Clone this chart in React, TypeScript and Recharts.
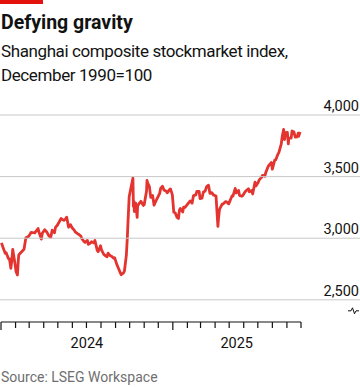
import React from "react";
import { LineChart, Line, XAxis, YAxis } from "recharts";

const dates = [
  "2024-01-02","2024-01-05","2024-01-10","2024-01-12","2024-01-17","2024-01-19","2024-01-22","2024-01-24","2024-01-26","2024-01-31",
  "2024-02-02","2024-02-05","2024-02-07","2024-02-08","2024-02-19","2024-02-23","2024-02-29","2024-03-05","2024-03-08","2024-03-13",
  "2024-03-15","2024-03-20","2024-03-22","2024-03-27","2024-03-29","2024-04-03","2024-04-08","2024-04-12","2024-04-16","2024-04-19",
  "2024-04-24","2024-04-26","2024-04-30","2024-05-08","2024-05-10","2024-05-14","2024-05-17","2024-05-20","2024-05-24","2024-05-28",
  "2024-05-31","2024-06-05","2024-06-07","2024-06-12","2024-06-14","2024-06-19","2024-06-21","2024-06-26","2024-06-28","2024-07-03",
  "2024-07-05","2024-07-09","2024-07-12","2024-07-17","2024-07-19","2024-07-24","2024-07-26","2024-07-31","2024-08-02","2024-08-07",
  "2024-08-09","2024-08-14","2024-08-16","2024-08-21","2024-08-23","2024-08-28","2024-08-30","2024-09-04","2024-09-06","2024-09-11",
  "2024-09-13","2024-09-18","2024-09-20","2024-09-24","2024-09-26","2024-09-27","2024-09-30","2024-10-08","2024-10-09","2024-10-10",
  "2024-10-11","2024-10-14","2024-10-17","2024-10-18","2024-10-22","2024-10-25","2024-10-30","2024-11-01","2024-11-06","2024-11-07",
  "2024-11-08","2024-11-12","2024-11-15","2024-11-19","2024-11-22","2024-11-27","2024-11-29","2024-12-04","2024-12-06","2024-12-10",
  "2024-12-13","2024-12-18","2024-12-20","2024-12-25","2024-12-27","2024-12-31","2025-01-03","2025-01-06","2025-01-10","2025-01-13",
  "2025-01-15","2025-01-17","2025-01-22","2025-01-24","2025-01-27","2025-02-07","2025-02-11","2025-02-14","2025-02-19","2025-02-21",
  "2025-02-26","2025-02-28","2025-03-04","2025-03-07","2025-03-11","2025-03-14","2025-03-18","2025-03-21","2025-03-25","2025-03-28",
  "2025-04-03","2025-04-07","2025-04-08","2025-04-10","2025-04-11","2025-04-16","2025-04-18","2025-04-23","2025-04-25","2025-04-30",
  "2025-05-07","2025-05-09","2025-05-14","2025-05-16","2025-05-21","2025-05-23","2025-05-28","2025-05-30","2025-06-04","2025-06-06",
  "2025-06-11","2025-06-13","2025-06-18","2025-06-20","2025-06-25","2025-06-27","2025-07-02","2025-07-04","2025-07-09","2025-07-11",
  "2025-07-16","2025-07-18","2025-07-23","2025-07-25","2025-07-30","2025-08-01","2025-08-06","2025-08-08","2025-08-13","2025-08-15",
  "2025-08-20","2025-08-22","2025-08-25","2025-08-27","2025-08-29","2025-09-02","2025-09-04","2025-09-05","2025-09-10","2025-09-12",
  "2025-09-16","2025-09-18","2025-09-19","2025-09-23","2025-09-25","2025-09-26","2025-09-29",
];

const values = [
  2962,2929,2877,2882,2833,2832,2756,2820,2910,2789,
  2730,2702,2830,2866,2910,3004,3015,3047,3046,3043,
  3054,3079,3048,2993,3041,3069,3048,3019,3007,3065,
  3044,3088,3105,3160,3154,3145,3154,3171,3089,3110,
  3087,3065,3051,3037,3033,3018,2998,2972,2967,2982,
  2950,2959,2971,2962,2982,2901,2891,2939,2905,2869,
  2862,2850,2879,2856,2855,2837,2842,2784,2766,2721,
  2704,2718,2736,2863,3000,3088,3336,3489,3258,3301,
  3217,3284,3169,3261,3285,3300,3266,3272,3383,3470,
  3452,3421,3331,3346,3268,3310,3326,3364,3404,3422,
  3392,3382,3368,3394,3400,3352,3211,3206,3169,3160,
  3228,3241,3213,3252,3250,3303,3284,3346,3351,3379,
  3380,3321,3325,3373,3384,3419,3430,3364,3370,3352,
  3342,3096,3146,3223,3238,3276,3277,3296,3296,3279,
  3343,3342,3404,3367,3388,3348,3340,3347,3377,3385,
  3402,3377,3388,3359,3455,3424,3455,3473,3494,3510,
  3503,3534,3582,3593,3615,3560,3634,3635,3683,3697,
  3766,3826,3883,3800,3857,3858,3765,3812,3812,3870,
  3862,3831,3820,3822,3853,3828,3862,
];

const monthTicks = [
  "2024-01-01","2024-02-01","2024-03-01","2024-04-01","2024-05-01","2024-06-01","2024-07-01","2024-08-01",
  "2024-09-01","2024-10-01","2024-11-01","2024-12-01","2025-01-01","2025-02-01","2025-03-01","2025-04-01",
  "2025-05-01","2025-06-01","2025-07-01","2025-08-01","2025-09-01","2025-10-01",
];
const yearLabels = ["2024", "2025"];
const yearLabelDates = ["2024-07-02", "2025-05-17"];
const yTicks = [2500, 3000, 3500, 4000];

const toT = (d: string) => Date.parse(d + "T00:00:00Z");
const data = dates.map((d, i) => ({ t: toT(d), v: values[i] }));
const monthT = monthTicks.map(toT);
const labelT = yearLabelDates.map(toT);
const allTicks = [...monthT, ...labelT];

const FONT = "Roboto, 'Noto Sans', sans-serif";
const INK = "#121212";

const XTick = (props: any) => {
  const { x, y, payload } = props;
  const li = labelT.indexOf(payload.value);
  if (li >= 0) {
    return (
      <text x={x} y={y + 26} textAnchor="middle" fontSize={14.5} fontWeight={400} stroke="none" fill={INK} fontFamily={FONT}>
        {yearLabels[li]}
      </text>
    );
  }
  const d = new Date(payload.value);
  const isJan = d.getUTCMonth() === 0;
  return <line x1={x} x2={x} y1={y} y2={y + (isJan ? 8 : 6)} stroke={INK} strokeWidth={1.2} />;
};

const YTick = (props: any) => {
  const { y, payload } = props;
  const v = payload.value as number;
  return (
    <g>
      <line x1={0} x2={360} y1={y} y2={y} stroke="#c8c8c8" strokeWidth={1} />
      <text x={359} y={y - 4} textAnchor="end" fontSize={14.5} stroke="none" fill={INK} fontFamily={FONT}>
        {v.toLocaleString("en-US")}
      </text>
      {v === yTicks[0] && (
        <path
          d={`M348 ${y + 11} h3 l1.5 -3 l2 6 l1.5 -3 h3`}
          fill="none"
          stroke={INK}
          strokeWidth={1}
        />
      )}
    </g>
  );
};

export default function App() {
  return (
    <div style={{ position: "absolute", left: 0, top: 0, width: 360, height: 387, background: "#fff", overflow: "hidden" }}>
      <div style={{ position: "absolute", left: 0, top: 0, width: 43, height: 4, background: "#e3120b" }} />
      <svg width={360} height={387} style={{ position: "absolute", left: 0, top: 0 }}>
        <text x={1} y={29.3} fontFamily={FONT} fontWeight={700} fontSize={19.5} fill={INK}>
          Defying gravity
        </text>
        <text x={1} y={57} fontFamily={FONT} fontSize={17} letterSpacing={-0.4} fill={INK}>
          Shanghai composite stockmarket index,
        </text>
        <text x={1} y={81} fontFamily={FONT} fontSize={17} letterSpacing={-0.4} fill={INK}>
          December 1990=100
        </text>
        <text x={1} y={381.5} fontFamily={FONT} fontSize={14} fill="#6f6f6f">
          Source: LSEG Workspace
        </text>
      </svg>
      <div style={{ position: "absolute", left: 0, top: 0 }}>
        <LineChart width={360} height={387} data={data} margin={{ top: 115, right: 0, bottom: 0, left: 1 }}>
          <YAxis
            orientation="right"
            domain={[2320, 4000]}
            ticks={yTicks}
            width={59}
            axisLine={false}
            tickLine={false}
            tick={<YTick />}
            interval={0}
          />
          <XAxis
            dataKey="t"
            type="number"
            scale="linear"
            domain={[monthT[0], monthT[monthT.length - 1]]}
            ticks={allTicks}
            interval={0}
            height={65}
            tickSize={0}
            tickMargin={0}
            tickLine={false}
            axisLine={{ stroke: INK, strokeWidth: 1.2 }}
            tick={<XTick />}
          />
          <Line
            type="linear"
            dataKey="v"
            stroke="#e3342f"
            strokeWidth={2.8}
            dot={false}
            isAnimationActive={false}
            strokeLinejoin="round"
          />
        </LineChart>
      </div>
    </div>
  );
}
